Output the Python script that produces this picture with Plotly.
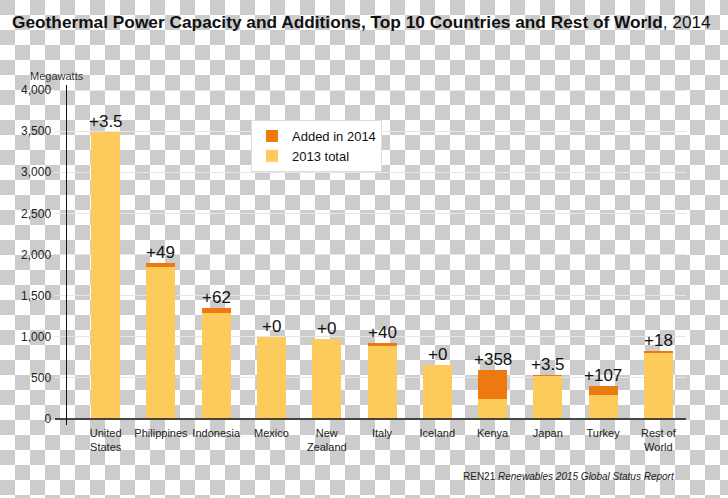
import plotly.graph_objects as go

# ---------------- data ----------------
categories = ["United<br>States", "Philippines", "Indonesia", "Mexico", "New<br>Zealand",
              "Italy", "Iceland", "Kenya", "Japan", "Turkey", "Rest of<br>World"]
total_2013 = [3490, 1845, 1290, 1000, 968, 887, 660, 240, 527, 295, 804]
added_2014 = [3.5, 49, 62, 0, 0, 40, 0, 358, 3.5, 107, 18]
y_ticks = [0, 500, 1000, 1500, 2000, 2500, 3000, 3500, 4000]
y_tick_labels = ["0", "500", "1,000", "1,500", "2,000", "2,500", "3,000", "3,500", "4,000"]

# ---------------- layout geometry ----------------
W, H = 728, 498
ML, MR, MT, MB = 67, 42, 85, 73
PW, PH = W - ML - MR, H - MT - MB

def px_x(px):
    return (px - ML) / PW

def px_y(py):
    return (H - MB - py) / PH

SANS = "Liberation Sans, Arial, sans-serif"

GOLD = "#FDCB5B"
ORANGE = "#EC7A10"

fig = go.Figure()
fig.add_trace(go.Bar(x=categories, y=total_2013, name="2013 total",
                     marker=dict(color=GOLD, line=dict(width=0))))
fig.add_trace(go.Bar(x=categories, y=added_2014, name="Added in 2014",
                     marker=dict(color=ORANGE, line=dict(width=0))))

# labels above bars
annotations = []
for c, b, a in zip(categories, total_2013, added_2014):
    annotations.append(dict(x=c, y=b + a, xref="x", yref="y", text=f"+{a:g}",
                            showarrow=False, yanchor="bottom", yshift=-1,
                            font=dict(family=SANS, size=17, color="#111")))

annotations.append(dict(x=px_x(28), y=px_y(76), xref="paper", yref="paper",
                        text="Megawatts", showarrow=False, xanchor="left", yanchor="middle",
                        font=dict(family=SANS, size=11, color="#333")))
annotations.append(dict(x=px_x(677), y=px_y(477), xref="paper", yref="paper",
                        text="REN21 <i>Renewables 2015 Global Status Report</i>",
                        showarrow=False, xanchor="right", yanchor="middle",
                        font=dict(family=SANS, size=10, color="#222")))

# checkerboard background (transparency pattern of the reference)
S = 15
parts = []
for r in range(0, H // S + 2):
    for c in range(0, W // S + 2):
        if (r + c) % 2 == 0:
            x0, x1 = px_x(c * S), px_x(c * S + S)
            y0, y1 = px_y(r * S), px_y(r * S + S)
            parts.append(f"M{x0:.5f},{y0:.5f}H{x1:.5f}V{y1:.5f}H{x0:.5f}Z")
shapes = [dict(type="path", xref="paper", yref="paper", path="".join(parts),
               fillcolor="#cccccc", line=dict(width=0), layer="below")]

# black zero line, extended to the left of the axis
shapes.append(dict(type="line", xref="paper", yref="y", x0=px_x(55), x1=1, y0=0, y1=0,
                   line=dict(color="#111", width=1.5), layer="above"))

fig.update_layout(
    width=W, height=H,
    margin=dict(l=ML, r=MR, t=MT, b=MB, pad=0, autoexpand=False),
    paper_bgcolor="white",
    plot_bgcolor="rgba(0,0,0,0)",
    barmode="stack",
    bargap=0.475,
    title=dict(text="<b>Geothermal Power Capacity and Additions, Top 10 Countries and Rest of World</b>, 2014",
               x=12 / W, xanchor="left", xref="container",
               y=1 - 22 / H, yanchor="middle", yref="container",
               font=dict(family=SANS, size=17.3, color="#111")),
    legend=dict(x=px_x(251), y=px_y(120), xanchor="left", yanchor="top",
                bgcolor="white", bordercolor="#dddddd", borderwidth=1,
                traceorder="reversed",
                font=dict(family=SANS, size=13, color="#111")),
    xaxis=dict(range=[-0.7, 10.5], showgrid=False, zeroline=False, showline=False,
               ticks="", tickangle=0, automargin=False,
               tickfont=dict(family=SANS, size=11, color="#222"),
               fixedrange=True),
    yaxis=dict(range=[-73, 4061], tickvals=y_ticks, ticktext=y_tick_labels,
               showgrid=True, gridcolor="#e6e6e6", gridwidth=1, automargin=False,
               zeroline=False, showline=True, linecolor="#111", linewidth=1.5,
               ticks="outside", ticklen=12, tickcolor="#e6e6e6",
               tickfont=dict(family=SANS, size=12, color="#222"),
               fixedrange=True),
    annotations=annotations,
    shapes=shapes,
    showlegend=True,
)

fig.write_html("out.html",
               config={"displayModeBar": False, "staticPlot": True},
               post_script="document.body.style.margin='0';document.body.style.overflow='hidden';")
